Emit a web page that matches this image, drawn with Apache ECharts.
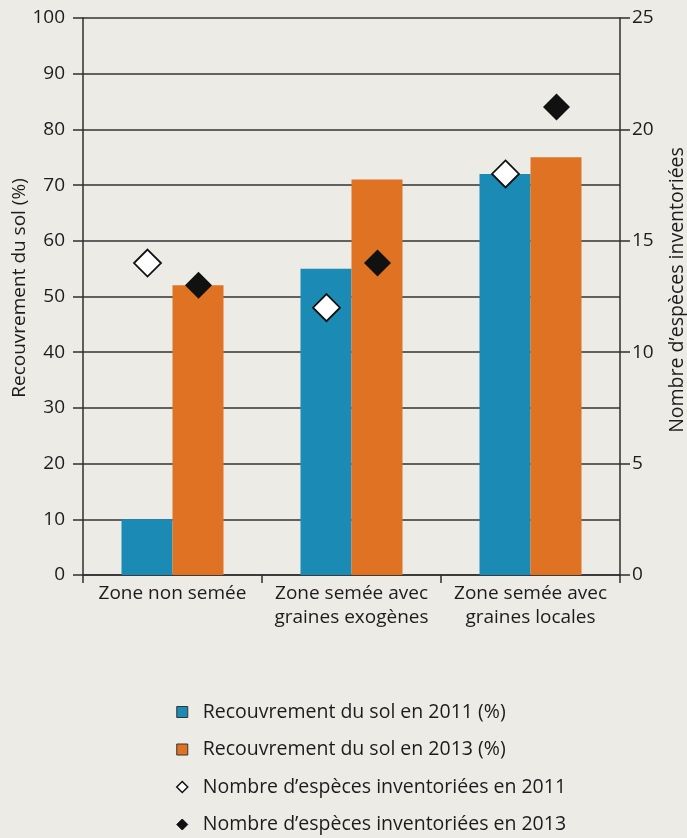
<!DOCTYPE html>
<html>
<head>
<meta charset="utf-8">
<script src="https://cdn.jsdelivr.net/npm/echarts@6/dist/echarts.min.js"></script>
<style>
html,body{margin:0;padding:0;background:#edebe6;}
#chart{width:687px;height:838px;}
</style>
</head>
<body>
<div id="chart"></div>
<script>
const categories = ['Zone non semée', 'Zone semée avec\ngraines exogènes', 'Zone semée avec\ngraines locales'];
const cover2011 = [10, 55, 72];
const cover2013 = [52, 71, 75];
const species2011 = [14, 12, 18];
const species2013 = [13, 14, 21];
const seriesNames = [
  'Recouvrement du sol en 2011 (%)',
  'Recouvrement du sol en 2013 (%)',
  'Nombre d’espèces inventoriées en 2011',
  'Nombre d’espèces inventoriées en 2013'
];
const leftTitle = 'Recouvrement du sol (%)';
const rightTitle = 'Nombre d’espèces inventoriées';

const FONT = 'Open Sans';
const TXT = '#1c1c1c';
const LINE = '#2f2f2f';
const FS = 19;

const chart = echarts.init(document.getElementById('chart'), null, {renderer: 'canvas'});
chart.setOption({
  backgroundColor: '#edebe6',
  animation: false,
  textStyle: {fontFamily: FONT},
  grid: {left: 83, right: 67, top: 18, bottom: 263, containLabel: false},
  xAxis: {
    type: 'category',
    data: categories,
    boundaryGap: true,
    axisLine: {lineStyle: {color: LINE, width: 1.5}},
    axisTick: {show: true, length: 8, lineStyle: {color: LINE, width: 1.5}},
    axisLabel: {color: TXT, fontSize: FS, fontFamily: FONT, margin: 7, lineHeight: 24, interval: 0}
  },
  yAxis: [
    {
      type: 'value', min: 0, max: 100, interval: 10, position: 'left',
      axisLine: {show: true, lineStyle: {color: LINE, width: 1.5}},
      axisTick: {show: true, length: 10, lineStyle: {color: LINE, width: 1.5}},
      axisLabel: {color: TXT, fontSize: FS, fontFamily: FONT, margin: 18},
      splitLine: {show: true, lineStyle: {color: '#333', width: 1.5}}
    },
    {
      type: 'value', min: 0, max: 25, interval: 5, position: 'right',
      axisLine: {show: true, lineStyle: {color: LINE, width: 1.5}},
      axisTick: {show: true, length: 10, lineStyle: {color: LINE, width: 1.5}},
      axisLabel: {color: TXT, fontSize: FS, fontFamily: FONT, margin: 12},
      splitLine: {show: false}
    }
  ],
  legend: {
    orient: 'vertical',
    left: 176,
    top: 702,
    height: 136,
    padding: 0,
    itemWidth: 11,
    itemHeight: 11,
    itemGap: 17.5,
    textStyle: {color: TXT, fontSize: 19.5, fontFamily: FONT, lineHeight: 20, padding: [0, 0, 0, 10]},
    data: [
      {name: seriesNames[0], icon: 'rect', itemStyle: {color: '#1b8ab5', borderColor: '#333', borderWidth: 1}},
      {name: seriesNames[1], icon: 'rect', itemStyle: {color: '#e07223', borderColor: '#333', borderWidth: 1}},
      {name: seriesNames[2], icon: 'diamond', itemStyle: {color: '#fff', borderColor: '#111', borderWidth: 1.5}},
      {name: seriesNames[3], icon: 'diamond', itemStyle: {color: '#111', borderColor: '#111', borderWidth: 1}}
    ]
  },
  graphic: [
    {type: 'text', x: 20, y: 288, rotation: Math.PI / 2,
     style: {text: leftTitle, fill: TXT, font: '19px "Open Sans"', textAlign: 'center', textVerticalAlign: 'middle'}},
    {type: 'text', x: 677, y: 290, rotation: Math.PI / 2,
     style: {text: rightTitle, fill: TXT, font: '19.5px "Open Sans"', textAlign: 'center', textVerticalAlign: 'middle'}}
  ],
  series: [
    {name: seriesNames[0], type: 'bar', data: cover2011, barWidth: 51, barGap: '0%',
     itemStyle: {color: '#1b8ab5'}},
    {name: seriesNames[1], type: 'bar', data: cover2013, barWidth: 51, barGap: '0%',
     itemStyle: {color: '#e07223'}},
    {name: seriesNames[2], type: 'scatter', yAxisIndex: 1, data: species2011, symbol: 'diamond',
     symbolSize: 27, symbolOffset: [-25, 0], z: 5,
     itemStyle: {color: '#fff', borderColor: '#111', borderWidth: 1.8, opacity: 1}},
    {name: seriesNames[3], type: 'scatter', yAxisIndex: 1, data: species2013, symbol: 'diamond',
     symbolSize: 27, symbolOffset: [26, 0], z: 5,
     itemStyle: {color: '#111', opacity: 1}}
  ]
});
</script>
</body>
</html>
